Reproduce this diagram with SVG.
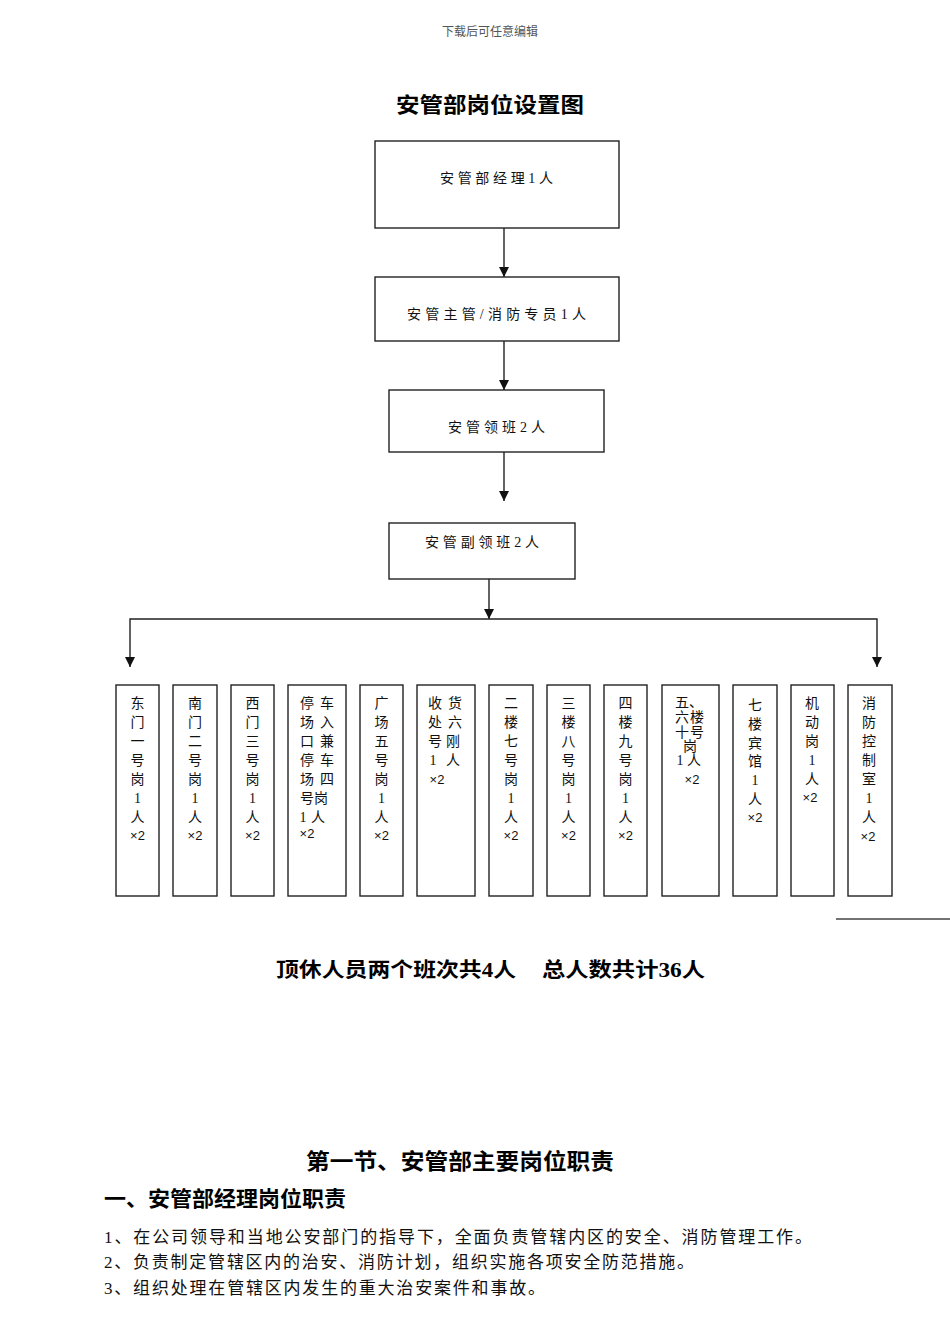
<svg xmlns="http://www.w3.org/2000/svg" width="950" height="1344" viewBox="0 0 950 1344">
<style>
.bg{fill:#fff}
.box{fill:#fff;stroke:#222;stroke-width:1.4}
.ln{fill:none;stroke:#222;stroke-width:1.4}
.t{font-family:"Liberation Serif","Noto Sans CJK SC",serif;font-size:14px;fill:#111}
.c{text-anchor:middle}
.x{font-family:"Liberation Sans","Noto Sans CJK SC",sans-serif;font-size:13px;fill:#111;text-anchor:middle}
.b{font-family:"Liberation Serif","Noto Sans CJK SC",serif;font-weight:bold;fill:#000}
.p{font-family:"Liberation Serif","Noto Sans CJK SC",serif;font-size:17px;fill:#111}
.h{font-family:"Liberation Serif","Noto Sans CJK SC",serif;font-size:12px;fill:#555;text-anchor:middle}
</style>
<defs>
<marker id="ah" markerUnits="userSpaceOnUse" markerWidth="10" markerHeight="10" refX="10" refY="5" orient="auto">
<path d="M0,0 L10,5 L0,10 z" fill="#111"/>
</marker>
</defs>
<rect class="bg" x="0" y="0" width="950" height="1344"/>
<text class="h" x="490" y="36">下载后可任意编辑</text>
<text class="b" x="396" y="112" font-size="21" textLength="188" lengthAdjust="spacingAndGlyphs">安管部岗位设置图</text>

<g id="connectors">
<line class="ln" x1="504" y1="228" x2="504" y2="277" marker-end="url(#ah)"/>
<line class="ln" x1="504" y1="341" x2="504" y2="390" marker-end="url(#ah)"/>
<line class="ln" x1="504" y1="452" x2="504" y2="501" marker-end="url(#ah)"/>
<line class="ln" x1="489" y1="579" x2="489" y2="619" marker-end="url(#ah)"/>
<path class="ln" d="M489,619 H130 V667" marker-end="url(#ah)"/>
<path class="ln" d="M489,619 H877 V667" marker-end="url(#ah)"/>
</g>

<g id="n-manager">
<rect class="box" x="375" y="141" width="244" height="87"/>
<text class="t" x="440" y="183" textLength="113" lengthAdjust="spacing">安管部经理1人</text>
</g>
<g id="n-supervisor">
<rect class="box" x="375" y="277" width="244" height="64"/>
<text class="t" x="407" y="319" textLength="179" lengthAdjust="spacing">安管主管/消防专员1人</text>
</g>
<g id="n-leader">
<rect class="box" x="389" y="390" width="215" height="62"/>
<text class="t" x="448" y="432" textLength="97" lengthAdjust="spacing">安管领班2人</text>
</g>
<g id="n-subleader">
<rect class="box" x="389" y="523" width="186" height="56"/>
<text class="t" x="425" y="547" textLength="114" lengthAdjust="spacing">安管副领班2人</text>
</g>

<g id="p1">
<rect class="box" x="116" y="685" width="43" height="211"/>
<text class="t c"><tspan x="137.5" y="708">东</tspan><tspan x="137.5" y="727">门</tspan><tspan x="137.5" y="746">一</tspan><tspan x="137.5" y="765">号</tspan><tspan x="137.5" y="784">岗</tspan><tspan x="137.5" y="803">1</tspan><tspan x="137.5" y="822">人</tspan></text>
<text class="x" x="137.5" y="840">×2</text>
</g>
<g id="p2">
<rect class="box" x="173" y="685" width="44" height="211"/>
<text class="t c"><tspan x="195" y="708">南</tspan><tspan x="195" y="727">门</tspan><tspan x="195" y="746">二</tspan><tspan x="195" y="765">号</tspan><tspan x="195" y="784">岗</tspan><tspan x="195" y="803">1</tspan><tspan x="195" y="822">人</tspan></text>
<text class="x" x="195" y="840">×2</text>
</g>
<g id="p3">
<rect class="box" x="231" y="685" width="43" height="211"/>
<text class="t c"><tspan x="252.5" y="708">西</tspan><tspan x="252.5" y="727">门</tspan><tspan x="252.5" y="746">三</tspan><tspan x="252.5" y="765">号</tspan><tspan x="252.5" y="784">岗</tspan><tspan x="252.5" y="803">1</tspan><tspan x="252.5" y="822">人</tspan></text>
<text class="x" x="252.5" y="840">×2</text>
</g>
<g id="p4">
<rect class="box" x="288" y="685" width="58" height="211"/>
<text class="t c"><tspan x="307" y="708">停</tspan><tspan x="327" y="708">车</tspan><tspan x="307" y="727">场</tspan><tspan x="327" y="727">入</tspan><tspan x="307" y="746">口</tspan><tspan x="327" y="746">兼</tspan><tspan x="307" y="765">停</tspan><tspan x="327" y="765">车</tspan><tspan x="307" y="784">场</tspan><tspan x="327" y="784">四</tspan><tspan x="307" y="803">号</tspan><tspan x="321" y="803">岗</tspan><tspan x="303" y="822">1</tspan><tspan x="318" y="822">人</tspan></text>
<text class="x" x="307" y="838">×2</text>
</g>
<g id="p5">
<rect class="box" x="360" y="685" width="43" height="211"/>
<text class="t c"><tspan x="381.5" y="708">广</tspan><tspan x="381.5" y="727">场</tspan><tspan x="381.5" y="746">五</tspan><tspan x="381.5" y="765">号</tspan><tspan x="381.5" y="784">岗</tspan><tspan x="381.5" y="803">1</tspan><tspan x="381.5" y="822">人</tspan></text>
<text class="x" x="381.5" y="840">×2</text>
</g>
<g id="p6">
<rect class="box" x="417" y="685" width="58" height="211"/>
<text class="t c"><tspan x="435" y="708">收</tspan><tspan x="455" y="708">货</tspan><tspan x="435" y="727">处</tspan><tspan x="455" y="727">六</tspan><tspan x="435" y="746">号</tspan><tspan x="453" y="746">刚</tspan><tspan x="433" y="765">1</tspan><tspan x="453" y="765">人</tspan></text>
<text class="x" x="437" y="784">×2</text>
</g>
<g id="p7">
<rect class="box" x="489" y="685" width="44" height="211"/>
<text class="t c"><tspan x="511" y="708">二</tspan><tspan x="511" y="727">楼</tspan><tspan x="511" y="746">七</tspan><tspan x="511" y="765">号</tspan><tspan x="511" y="784">岗</tspan><tspan x="511" y="803">1</tspan><tspan x="511" y="822">人</tspan></text>
<text class="x" x="511" y="840">×2</text>
</g>
<g id="p8">
<rect class="box" x="547" y="685" width="43" height="211"/>
<text class="t c"><tspan x="568.5" y="708">三</tspan><tspan x="568.5" y="727">楼</tspan><tspan x="568.5" y="746">八</tspan><tspan x="568.5" y="765">号</tspan><tspan x="568.5" y="784">岗</tspan><tspan x="568.5" y="803">1</tspan><tspan x="568.5" y="822">人</tspan></text>
<text class="x" x="568.5" y="840">×2</text>
</g>
<g id="p9">
<rect class="box" x="604" y="685" width="43" height="211"/>
<text class="t c"><tspan x="625.5" y="708">四</tspan><tspan x="625.5" y="727">楼</tspan><tspan x="625.5" y="746">九</tspan><tspan x="625.5" y="765">号</tspan><tspan x="625.5" y="784">岗</tspan><tspan x="625.5" y="803">1</tspan><tspan x="625.5" y="822">人</tspan></text>
<text class="x" x="625.5" y="840">×2</text>
</g>
<g id="p10">
<rect class="box" x="662" y="685" width="57" height="211"/>
<text class="t c"><tspan x="682" y="707">五</tspan><tspan x="696" y="707">、</tspan><tspan x="682" y="722">六</tspan><tspan x="697" y="722">楼</tspan><tspan x="682" y="737">十</tspan><tspan x="697" y="737">号</tspan><tspan x="690" y="751">岗</tspan><tspan x="680" y="765">1</tspan><tspan x="694" y="765">人</tspan></text>
<text class="x" x="692" y="784">×2</text>
</g>
<g id="p11">
<rect class="box" x="733" y="685" width="44" height="211"/>
<text class="t c"><tspan x="755" y="710">七</tspan><tspan x="755" y="729">楼</tspan><tspan x="755" y="748">宾</tspan><tspan x="755" y="766">馆</tspan><tspan x="755" y="785">1</tspan><tspan x="755" y="804">人</tspan></text>
<text class="x" x="755" y="822">×2</text>
</g>
<g id="p12">
<rect class="box" x="791" y="685" width="43" height="211"/>
<text class="t c"><tspan x="812" y="708">机</tspan><tspan x="812" y="727">动</tspan><tspan x="812" y="746">岗</tspan><tspan x="812" y="765">1</tspan><tspan x="812" y="784">人</tspan></text>
<text class="x" x="810" y="802">×2</text>
</g>
<g id="p13">
<rect class="box" x="848" y="685" width="44" height="211"/>
<text class="t c"><tspan x="869" y="708">消</tspan><tspan x="869" y="727">防</tspan><tspan x="869" y="746">控</tspan><tspan x="869" y="765">制</tspan><tspan x="869" y="784">室</tspan><tspan x="869" y="803">1</tspan><tspan x="869" y="822">人</tspan></text>
<text class="x" x="868" y="841">×2</text>
</g>

<line x1="836" y1="919" x2="950" y2="919" stroke="#444" stroke-width="1.5"/>

<text class="b" x="276" y="977" font-size="20" textLength="240" lengthAdjust="spacingAndGlyphs">顶休人员两个班次共4人</text>
<text class="b" x="542" y="977" font-size="20" textLength="163" lengthAdjust="spacingAndGlyphs">总人数共计36人</text>

<text class="b" x="306" y="1169" font-size="22" textLength="308" lengthAdjust="spacingAndGlyphs">第一节、安管部主要岗位职责</text>
<text class="b" x="104" y="1206" font-size="21" textLength="242" lengthAdjust="spacingAndGlyphs">一、安管部经理岗位职责</text>
<text class="p" x="104" y="1243" textLength="708" lengthAdjust="spacing">1、在公司领导和当地公安部门的指导下，全面负责管辖内区的安全、消防管理工作。</text>
<text class="p" x="104" y="1268" textLength="590" lengthAdjust="spacing">2、负责制定管辖区内的治安、消防计划，组织实施各项安全防范措施。</text>
<text class="p" x="104" y="1294" textLength="441" lengthAdjust="spacing">3、组织处理在管辖区内发生的重大治安案件和事故。</text>
</svg>
